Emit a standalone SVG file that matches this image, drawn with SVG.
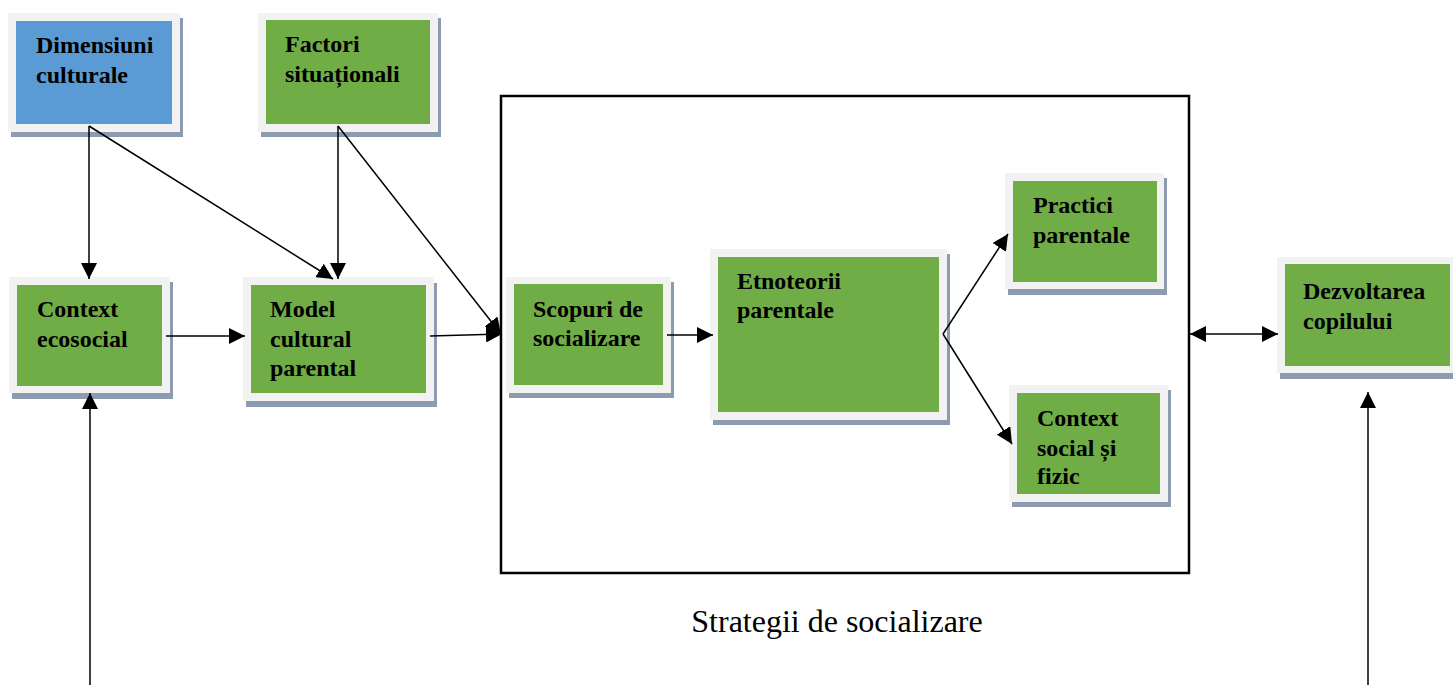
<svg xmlns="http://www.w3.org/2000/svg" width="1453" height="685" viewBox="0 0 1453 685">
<defs>
<marker id="ah" markerUnits="userSpaceOnUse" markerWidth="16" markerHeight="16" refX="16" refY="8" orient="auto-start-reverse" viewBox="0 0 16 16">
<path d="M0,0 L16,8 L0,16 z" fill="#000"/>
</marker>
<style>
.sh{fill:#8d9bb0}
.fr{fill:#f2f2f2}
.gr{fill:#70ad47}
.bl{fill:#5b9bd5}
.t{font-family:"Liberation Serif","Times New Roman",serif;font-weight:bold;font-size:24px;fill:#000}
.c{stroke:#000;stroke-width:1.5;fill:none;marker-end:url(#ah)}
</style>
</defs>
<rect width="1453" height="685" fill="#fff"/>
<rect x="501" y="96" width="688" height="477" fill="none" stroke="#000" stroke-width="2.5"/>
<g id="dimensiuni">
<rect class="sh" x="11" y="18" width="172" height="119"/>
<rect class="fr" x="8" y="13" width="172" height="119"/>
<rect class="bl" x="16" y="21" width="156" height="103"/>
<text class="t" x="36" y="53">Dimensiuni</text>
<text class="t" x="36" y="83">culturale</text>
</g>
<g id="factori">
<rect class="sh" x="261" y="18" width="180" height="119"/>
<rect class="fr" x="258" y="13" width="180" height="119"/>
<rect class="gr" x="266" y="20" width="164" height="104"/>
<text class="t" x="285" y="52">Factori</text>
<text class="t" x="285" y="82">situaționali</text>
</g>
<g id="context-ecosocial">
<rect class="sh" x="12" y="282" width="161" height="117"/>
<rect class="fr" x="9" y="277" width="161" height="116"/>
<rect class="gr" x="17" y="285" width="145" height="101"/>
<text class="t" x="37" y="317">Context</text>
<text class="t" x="37" y="347">ecosocial</text>
</g>
<g id="model">
<rect class="sh" x="246" y="283" width="191" height="124"/>
<rect class="fr" x="243" y="277" width="191" height="124"/>
<rect class="gr" x="251" y="285" width="175" height="108"/>
<text class="t" x="270" y="317">Model</text>
<text class="t" x="270" y="347">cultural</text>
<text class="t" x="270" y="376">parental</text>
</g>
<g id="scopuri">
<rect class="sh" x="509" y="282" width="165" height="116"/>
<rect class="fr" x="506" y="277" width="165" height="116"/>
<rect class="gr" x="514" y="284" width="149" height="101"/>
<text class="t" x="533" y="317">Scopuri de</text>
<text class="t" x="533" y="346">socializare</text>
</g>
<g id="etnoteorii">
<rect class="sh" x="713" y="254" width="237" height="171"/>
<rect class="fr" x="710" y="249" width="237" height="171"/>
<rect class="gr" x="718" y="257" width="221" height="155"/>
<text class="t" x="737" y="289">Etnoteorii</text>
<text class="t" x="737" y="318">parentale</text>
</g>
<g id="practici">
<rect class="sh" x="1008" y="178" width="159" height="117"/>
<rect class="fr" x="1005" y="173" width="159" height="116"/>
<rect class="gr" x="1013" y="181" width="144" height="101"/>
<text class="t" x="1033" y="213">Practici</text>
<text class="t" x="1033" y="243">parentale</text>
</g>
<g id="context-social">
<rect class="sh" x="1012" y="390" width="159" height="117"/>
<rect class="fr" x="1009" y="385" width="159" height="117"/>
<rect class="gr" x="1017" y="393" width="143" height="101"/>
<text class="t" x="1037" y="426">Context</text>
<text class="t" x="1037" y="456">social și</text>
<text class="t" x="1037" y="484">fizic</text>
</g>
<g id="dezvoltarea">
<rect class="sh" x="1280" y="263" width="190" height="116"/>
<rect class="fr" x="1277" y="257" width="190" height="116"/>
<rect class="gr" x="1285" y="264" width="165" height="102"/>
<text class="t" x="1303" y="299">Dezvoltarea</text>
<text class="t" x="1303" y="329">copilului</text>
</g>
<text x="837" y="632" text-anchor="middle" font-family="Liberation Serif, Times New Roman, serif" font-size="32" fill="#000">Strategii de socializare</text>
<g id="connectors">
<line class="c" x1="89" y1="126" x2="89" y2="279"/>
<line class="c" x1="89" y1="126" x2="333" y2="279"/>
<line class="c" x1="338" y1="126" x2="338" y2="279"/>
<line class="c" x1="338" y1="126" x2="501" y2="334"/>
<line class="c" x1="166" y1="336" x2="245" y2="336"/>
<line class="c" x1="430" y1="336" x2="502" y2="334"/>
<line class="c" x1="667" y1="335" x2="713" y2="335"/>
<line class="c" x1="943" y1="334" x2="1008" y2="234"/>
<line class="c" x1="943" y1="334" x2="1012" y2="444"/>
<line class="c" x1="1190" y1="334" x2="1278" y2="334" marker-start="url(#ah)"/>
<line class="c" x1="90" y1="685" x2="90" y2="393"/>
<line class="c" x1="1368" y1="685" x2="1368" y2="392"/>
</g>
</svg>
